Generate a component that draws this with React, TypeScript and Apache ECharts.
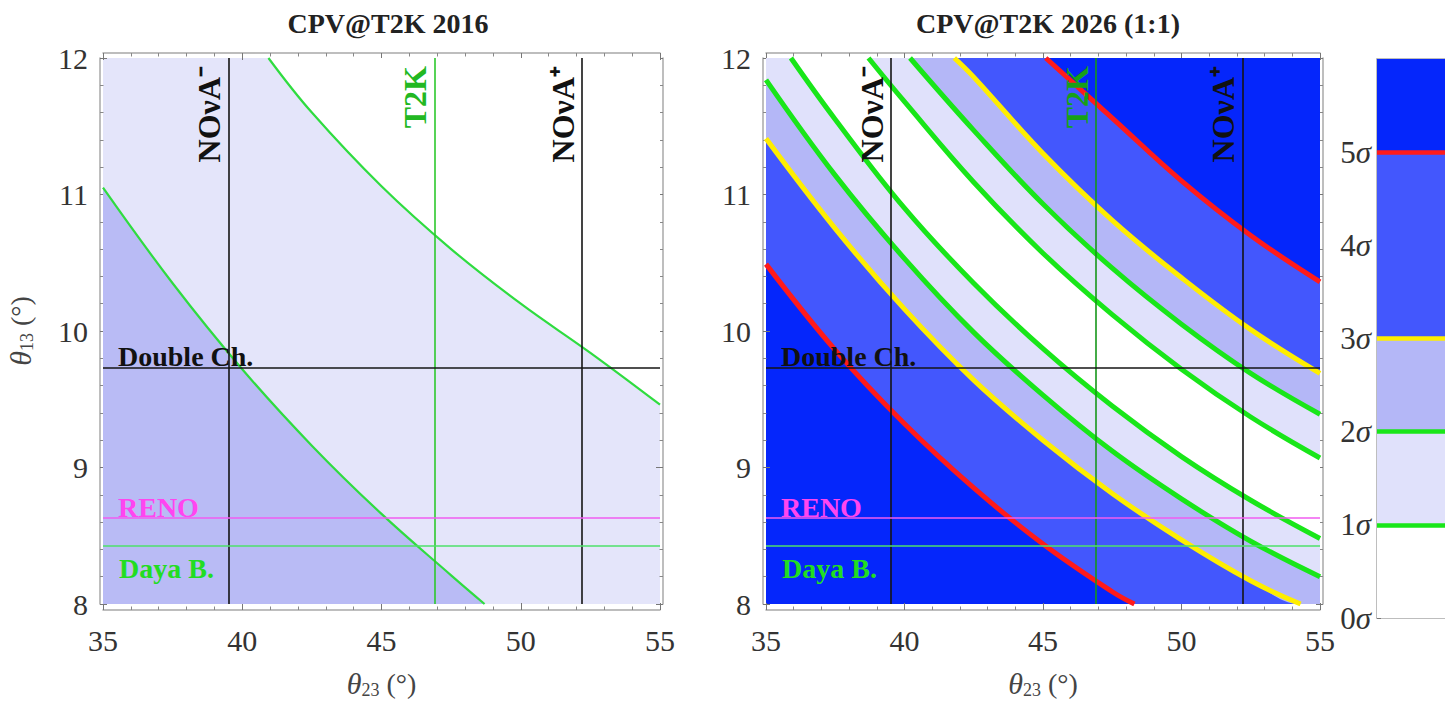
import React, { useEffect, useRef } from 'react';
import * as echarts from 'echarts';

// ---------- axis ranges & ticks ----------
const X_MIN = 35, X_MAX = 55, X_STEP = 5;
const Y_MIN = 8, Y_MAX = 12, Y_STEP = 1;
const SIGMA_TICKS = [0, 1, 2, 3, 4, 5];
const SIGMA_MAX = 6;

// ---------- left panel (2016) boundaries ----------
const left2016Upper: number[][] = [[40.94, 12], [42.5, 11.6], [45, 11.06], [47.5, 10.6], [50, 10.2], [52.5, 9.84], [55, 9.46]];
const left2016Lower: number[][] = [[35, 11.05], [37.5, 10.35], [40, 9.72], [42.5, 9.16], [45, 8.66], [47.5, 8.21], [48.7, 8.0]];

// ---------- right panel (2026) contours ----------
const red5Lower: number[][] = [[35, 10.49], [37.5, 9.86], [40, 9.32], [42.5, 8.85], [45, 8.44], [47.5, 8.09], [48.3, 8.0]];
const yellow3Lower: number[][] = [[35, 11.41], [37.5, 10.75], [40, 10.16], [42.5, 9.64], [45, 9.2], [47.5, 8.81], [50, 8.47], [52.5, 8.17], [54.3, 8.0]];
const green2Lower: number[][] = [[35, 11.84], [37.5, 11.14], [40, 10.53], [42.5, 9.99], [45, 9.53], [47.5, 9.12], [50, 8.77], [52.5, 8.46], [55, 8.2]];
const green1Lower: number[][] = [[35.9, 12], [37.5, 11.55], [40, 10.9], [42.5, 10.35], [45, 9.87], [47.5, 9.45], [50, 9.08], [52.5, 8.76], [55, 8.48]];
const green1Upper: number[][] = [[38.7, 12], [40, 11.68], [42.5, 11.09], [45, 10.57], [47.5, 10.12], [50, 9.72], [52.5, 9.37], [55, 9.07]];
const green2Upper: number[][] = [[40.2, 12], [42.5, 11.47], [45, 10.93], [47.5, 10.46], [50, 10.05], [52.5, 9.69], [55, 9.39]];
const yellow3Upper: number[][] = [[41.8, 12], [42.5, 11.86], [45, 11.3], [47.5, 10.81], [50, 10.39], [52.5, 10.01], [55, 9.69]];
const red5Upper: number[][] = [[45.1, 12], [47.5, 11.56], [50, 11.1], [52.5, 10.7], [55, 10.36]];

// ---------- reference measurements ----------
const vLineNames = ['NOνA⁻', 'T2K', 'NOνA⁺'];
const vLineValues = [39.5, 46.9, 52.2];
const hLineNames = ['Double Ch.', 'RENO', 'Daya B.'];
const hLineValues = [9.73, 8.63, 8.43];

// ---------- colour bar ----------
const sigmaBandEdges = [0, 1, 2, 3, 5, 6];
const sigmaLineLevels = [1, 2, 3, 5];

// ---------- styles ----------
const FONT = 'Liberation Serif';
const C_STRONG = '#0526fb';
const C_MED = '#4357fd';
const C_LIGHT = '#b4b7f7';
const C_VLIGHT = '#e0e1fb';
const C_WHITE = '#ffffff';
const bandColors = [C_WHITE, C_VLIGHT, C_LIGHT, C_MED, C_STRONG];
const sigmaLineColors = ['#19e619', '#19e619', '#ffee00', '#ff1a1a'];
const C_GREEN = '#19e619';
const C_YELLOW = '#ffee00';
const C_RED = '#ff1a1a';
const vLineColorsLeft = ['#151515', '#2cc82c', '#151515'];
const vLineColorsRight = ['#151515', '#16961a', '#151515'];
const hLineColors = ['#151515', '#f05cf0', '#4ee06a'];
const hLabelColors = ['#111111', '#ff45f0', '#22dd22'];
const vLabelColorsLeft = ['#111111', '#22b822', '#111111'];
const vLabelColorsRight = ['#111111', '#17a017', '#111111'];
const TICK_FS = 30;
const LABEL_FS = 28;
const VLABEL_FS = 32;

const GRIDS = [
  { left: 103, top: 58, width: 557, height: 555 },
  { left: 766, top: 58, width: 554, height: 555 },
  { left: 1377, top: 59, width: 90, height: 559 },
];

const nameRich = {
  t: { fontFamily: FONT, fontSize: 30, fontStyle: 'italic', color: '#444' },
  s: { fontFamily: FONT, fontSize: 18, color: '#444', padding: [14, 0, 0, 0] },
  n: { fontFamily: FONT, fontSize: 28, color: '#444' },
};

function frameAxes(gi: number, showLabels: boolean, withYName: boolean) {
  const frameLine = { show: true, lineStyle: { color: '#a8a8a8', width: 1.5 } };
  const tick = { show: true, inside: true, length: 7, lineStyle: { color: '#777', width: 1 } };
  const minor = { show: true, splitNumber: 5, length: 3.5, lineStyle: { color: '#888', width: 1 } };
  const lbl = { show: true, fontFamily: FONT, fontSize: TICK_FS, color: '#333' };
  const xs = [
    {
      type: 'value', gridIndex: gi, position: 'bottom', min: X_MIN, max: X_MAX, interval: X_STEP, offset: 6,
      axisLine: frameLine, axisTick: tick, minorTick: minor, splitLine: { show: false },
      axisLabel: { ...lbl, margin: 15 },
      name: '{t|θ}{s|23}{n| (°)}', nameLocation: 'middle', nameGap: 57,
      nameTextStyle: { rich: nameRich },
    },
    {
      type: 'value', gridIndex: gi, position: 'top', min: X_MIN, max: X_MAX, interval: X_STEP, offset: 5,
      axisLine: frameLine, axisTick: tick, minorTick: minor, splitLine: { show: false }, axisLabel: { show: false },
    },
  ];
  const ys: any[] = [
    {
      type: 'value', gridIndex: gi, position: 'left', min: Y_MIN, max: Y_MAX, interval: Y_STEP, offset: 3,
      axisLine: frameLine, axisTick: tick, minorTick: minor, splitLine: { show: false },
      axisLabel: { ...lbl, show: showLabels, margin: 12 },
    },
    {
      type: 'value', gridIndex: gi, position: 'right', min: Y_MIN, max: Y_MAX, interval: Y_STEP, offset: 3,
      axisLine: frameLine, axisTick: tick, minorTick: minor, splitLine: { show: false }, axisLabel: { show: false },
    },
  ];
  if (withYName) {
    Object.assign(ys[0], {
      name: '{t|θ}{s|13}{n| (°)}', nameLocation: 'middle', nameGap: 64, nameRotate: 90,
      nameTextStyle: { rich: nameRich },
    });
  }
  return { xs, ys };
}

function refLineSeries(xi: number, yi: number, vColors: string[], vLabelColors: string[]) {
  const lblBase = { show: true, fontFamily: FONT, fontWeight: 'bold' };
  const data: any[] = [];
  vLineValues.forEach((v, i) => {
    data.push({
      xAxis: v,
      lineStyle: { color: vColors[i], width: 1.6, type: 'solid' },
      label: { ...lblBase, fontSize: VLABEL_FS, formatter: vLineNames[i], color: vLabelColors[i], position: 'insideEndTop', distance: [8, 3] },
    });
  });
  hLineValues.forEach((v, i) => {
    data.push({
      yAxis: v,
      lineStyle: { color: hLineColors[i], width: 1.6, type: 'solid' },
      label: {
        ...lblBase, fontSize: LABEL_FS, formatter: hLineNames[i], color: hLabelColors[i],
        position: i === 2 ? 'insideStartBottom' : 'insideStartTop', distance: i === 2 ? [16, 9] : [15, -3],
      },
    });
  });
  return {
    type: 'line', xAxisIndex: xi, yAxisIndex: yi, data: [[X_MIN, Y_MIN]], symbol: 'none',
    lineStyle: { width: 0 }, z: 20, silent: true,
    markLine: { silent: true, symbol: 'none', animation: false, z: 30, data },
  };
}

function fill(xi: number, yi: number, pts: number[][], color: string, origin: string, z: number, closeBottom = false) {
  const data = closeBottom ? [...pts, [X_MAX, Y_MIN]] : pts;
  return {
    type: 'line', xAxisIndex: xi, yAxisIndex: yi, data, smooth: 0.4, symbol: 'none',
    lineStyle: { width: 0, color: 'transparent' }, areaStyle: { color, opacity: 1, origin }, z, silent: true,
  };
}

function curve(xi: number, yi: number, pts: number[][], color: string, width: number, z: number) {
  return {
    type: 'line', xAxisIndex: xi, yAxisIndex: yi, data: pts, smooth: 0.4, symbol: 'none',
    lineStyle: { color, width, cap: 'butt' }, z, silent: true,
  };
}

export default function App() {
  const ref = useRef<HTMLDivElement>(null);
  useEffect(() => {
    if (!ref.current) return;
    const chart = echarts.init(ref.current, undefined, { renderer: 'svg' });
    const a0 = frameAxes(0, true, true);
    const a1 = frameAxes(1, true, false);
    const cbFrame = { show: true, lineStyle: { color: '#a8a8a8', width: 1.5 } };

    const cbX = [
      { type: 'value', gridIndex: 2, position: 'bottom', min: 0, max: 1, axisLine: cbFrame, axisTick: { show: false }, axisLabel: { show: false }, splitLine: { show: false } },
      { type: 'value', gridIndex: 2, position: 'top', min: 0, max: 1, axisLine: cbFrame, axisTick: { show: false }, axisLabel: { show: false }, splitLine: { show: false } },
    ];
    const cbY = [
      {
        type: 'value', gridIndex: 2, position: 'left', min: 0, max: SIGMA_MAX, interval: 1,
        axisLine: cbFrame,
        axisTick: { show: true, inside: true, length: 4, lineStyle: { color: '#777' } },
        splitLine: { show: false },
        axisLabel: {
          show: true, margin: 6,
          formatter: (v: number) => (SIGMA_TICKS.includes(v) ? `{n|${v}}{g|σ}` : ''),
          rich: {
            n: { fontFamily: FONT, fontSize: 31, color: '#333' },
            g: { fontFamily: FONT, fontSize: 31, fontStyle: 'italic', color: '#333' },
          },
        },
      },
    ];

    const bandData = bandColors.map((c, i) => [
      { yAxis: sigmaBandEdges[i], itemStyle: { color: c } },
      { yAxis: sigmaBandEdges[i + 1] },
    ]);
    const cbLines = sigmaLineLevels.map((lv, i) => ({ yAxis: lv, lineStyle: { color: sigmaLineColors[i], width: 4.5, type: 'solid' } }));

    const titleStyle = { fontFamily: FONT, fontSize: 28, fontWeight: 'bold', color: '#222' };
    const option: any = {
      animation: false,
      backgroundColor: '#ffffff',
      title: [
        { text: 'CPV@T2K 2016', left: 383, top: 4, textAlign: 'center', textStyle: titleStyle },
        { text: 'CPV@T2K 2026 (1:1)', left: 1043, top: 4, textAlign: 'center', textStyle: titleStyle },
      ],
      grid: [
        { ...GRIDS[0], show: true, backgroundColor: '#e4e5fa', borderWidth: 0 },
        { ...GRIDS[1], show: true, backgroundColor: C_STRONG, borderWidth: 0 },
        { ...GRIDS[2], show: false },
      ],
      xAxis: [...a0.xs, ...a1.xs, ...cbX],
      yAxis: [...a0.ys, ...a1.ys, ...cbY],
      series: [
        // left panel
        fill(0, 0, left2016Upper, '#ffffff', 'end', 2),
        fill(0, 0, left2016Lower, '#b9bbf5', 'start', 2),
        curve(0, 0, left2016Upper, '#2fdc3f', 2.2, 5),
        curve(0, 0, left2016Lower, '#2fdc3f', 2.2, 5),
        refLineSeries(0, 0, vLineColorsLeft, vLabelColorsLeft),
        // right panel fills (layered, each fills the region above its contour)
        fill(2, 2, red5Lower, C_MED, 'end', 2, true),
        fill(2, 2, yellow3Lower, C_LIGHT, 'end', 3, true),
        fill(2, 2, green2Lower, C_VLIGHT, 'end', 4),
        fill(2, 2, green1Lower, C_WHITE, 'end', 5),
        fill(2, 2, green1Upper, C_VLIGHT, 'end', 6),
        fill(2, 2, green2Upper, C_LIGHT, 'end', 7),
        fill(2, 2, yellow3Upper, C_MED, 'end', 8),
        fill(2, 2, red5Upper, C_STRONG, 'end', 9),
        curve(2, 2, red5Lower, C_RED, 5, 12),
        curve(2, 2, yellow3Lower, C_YELLOW, 5, 12),
        curve(2, 2, green2Lower, C_GREEN, 5, 12),
        curve(2, 2, green1Lower, C_GREEN, 5, 12),
        curve(2, 2, green1Upper, C_GREEN, 5, 12),
        curve(2, 2, green2Upper, C_GREEN, 5, 12),
        curve(2, 2, yellow3Upper, C_YELLOW, 5, 12),
        curve(2, 2, red5Upper, C_RED, 5, 12),
        refLineSeries(2, 2, vLineColorsRight, vLabelColorsRight),
        // colour bar
        {
          type: 'line', xAxisIndex: 4, yAxisIndex: 4, data: [[0, 0]], symbol: 'none', lineStyle: { width: 0 }, silent: true,
          markArea: { silent: true, data: bandData },
          markLine: { silent: true, symbol: 'none', label: { show: false }, data: cbLines },
        },
      ],
    };
    chart.setOption(option);
    return () => chart.dispose();
  }, []);
  return <div ref={ref} style={{ position: 'fixed', left: 0, top: 0, width: 1445, height: 704 }} />;
}
